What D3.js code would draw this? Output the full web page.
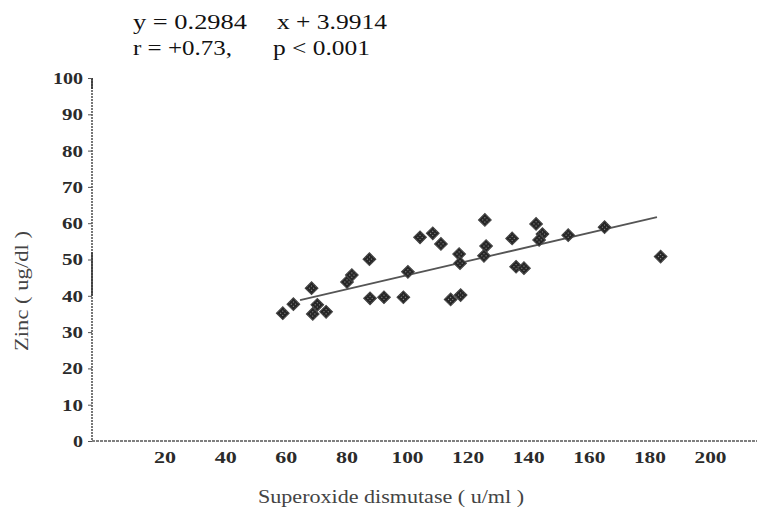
<!DOCTYPE html>
<html>
<head>
<meta charset="utf-8">
<script src="https://cdn.jsdelivr.net/npm/d3@7"></script>
<style>
  body { margin: 0; background: #fff; }
  svg { display: block; }
</style>
</head>
<body>
<div id="chart"></div>
<script>
'use strict';

//#region data
let sod  = [59.0, 62.5, 68.5, 70.4, 68.9, 73.3, 80.2, 81.8, 87.6, 87.8, 92.4, 98.8, 100.3, 104.3, 108.5, 111.2,
            114.4, 117.7, 117.2, 117.5, 125.7, 126.1, 125.4, 134.7, 136.0, 138.6, 142.6, 144.7, 143.6, 153.2, 165.2, 183.7];
let zinc = [35.2, 37.7, 42.1, 37.5, 35.0, 35.6, 43.8, 45.7, 50.1, 39.3, 39.6, 39.6, 46.6, 56.1, 57.2, 54.3,
            39.0, 40.2, 51.5, 49.0, 60.9, 53.7, 51.0, 55.8, 48.0, 47.6, 59.8, 57.0, 55.4, 56.7, 58.9, 50.8];

//fitted line as drawn (end points)
let fitX = [64.7, 182.5];
let fitY = [38.8, 61.7];

let xTicks = [20, 40, 60, 80, 100, 120, 140, 160, 180, 200];
let yTicks = [0, 10, 20, 30, 40, 50, 60, 70, 80, 90, 100];

let eqLine1 = ['y = 0.2984', 'x + 3.9914'];
let eqLine2 = ['r = +0.73,', 'p < 0.001'];
let xTitle = 'Superoxide dismutase ( u/ml )';
let yTitle = 'Zinc ( ug/dl )';
//#endregion

let w = 757;
let h = 516;

let svg = d3.select('#chart').append('svg').attr('width', w).attr('height', h);

//speckled fill for the markers (scan look)
let pat = svg.append('defs').append('pattern').attr('id', 'speck')
  .attr('patternUnits', 'userSpaceOnUse').attr('width', 3).attr('height', 3);
pat.append('rect').attr('width', 3).attr('height', 3).attr('fill', '#262626');
pat.append('rect').attr('x', 1).attr('y', 1).attr('width', 1).attr('height', 1).attr('fill', '#9a9a9a');

//scales - x 0 sits a little right of the y axis line in the original
let x = d3.scaleLinear().domain([0, 200]).range([104, 710]);
let y = d3.scaleLinear().domain([0, 100]).range([441, 78]);

let ink = '#2b2b2b';
let labelFont = '"Liberation Serif", "DejaVu Serif", serif';

//y axis line (scan looks dotted/grey)
svg.append('line').attr('x1', 92).attr('x2', 92).attr('y1', y(100)).attr('y2', y(0))
  .attr('stroke', '#555').attr('stroke-width', 1.6).attr('stroke-dasharray', '2,1');
//darker bits of the axis line
svg.append('line').attr('x1', 92).attr('x2', 92).attr('y1', y(100)).attr('y2', y(97))
  .attr('stroke', '#333').attr('stroke-width', 1.6);
svg.append('line').attr('x1', 92).attr('x2', 92).attr('y1', y(52)).attr('y2', y(40))
  .attr('stroke', '#333').attr('stroke-width', 1.6);

//x axis line
svg.append('line').attr('x1', 92).attr('x2', w).attr('y1', y(0)).attr('y2', y(0))
  .attr('stroke', '#555').attr('stroke-width', 1.6).attr('stroke-dasharray', '3,1');

//y ticks + labels
let yAxis = d3.axisLeft(y).tickValues(yTicks).tickSize(4).tickPadding(5);
let gy = svg.append('g').attr('transform', 'translate(92,0)').call(yAxis);
gy.select('.domain').remove();
gy.selectAll('line').attr('stroke', '#555');
gy.selectAll('text').attr('fill', ink).style('font-family', labelFont)
  .style('font-size', '17px').style('font-weight', 'bold')
  .attr('textLength', d => d === 100 ? 30 : (d === 0 ? 10 : 21)).attr('lengthAdjust', 'spacingAndGlyphs');

//x tick labels (no tick marks visible)
let xAxis = d3.axisBottom(x).tickValues(xTicks).tickSize(0).tickPadding(10);
let gx = svg.append('g').attr('transform', `translate(0,${y(0)})`).call(xAxis);
gx.select('.domain').remove();
gx.selectAll('text').attr('fill', ink).style('font-family', labelFont)
  .style('font-size', '17px').style('font-weight', 'bold')
  .attr('textLength', d => d >= 100 ? 32 : 22).attr('lengthAdjust', 'spacingAndGlyphs');

//axis titles
svg.append('text').text(xTitle).attr('x', 391).attr('y', 503).attr('text-anchor', 'middle')
  .attr('textLength', 266).attr('lengthAdjust', 'spacingAndGlyphs')
  .attr('fill', '#444').style('font-family', labelFont).style('font-size', '19px');

svg.append('text').text(yTitle).attr('transform', 'translate(28,291) rotate(-90)').attr('text-anchor', 'middle')
  .attr('textLength', 120).attr('lengthAdjust', 'spacingAndGlyphs')
  .attr('fill', '#444').style('font-family', labelFont).style('font-size', '19px');

//equation text
let eq = svg.append('g').style('font-family', labelFont).style('font-size', '22px').attr('fill', '#111');
eq.append('text').text(eqLine1[0]).attr('x', 133).attr('y', 29).attr('textLength', 114).attr('lengthAdjust', 'spacingAndGlyphs');
eq.append('text').text(eqLine1[1]).attr('x', 277).attr('y', 29).attr('textLength', 110).attr('lengthAdjust', 'spacingAndGlyphs');
eq.append('text').text(eqLine2[0]).attr('x', 133).attr('y', 55).attr('textLength', 99).attr('lengthAdjust', 'spacingAndGlyphs');
eq.append('text').text(eqLine2[1]).attr('x', 273).attr('y', 55).attr('textLength', 97).attr('lengthAdjust', 'spacingAndGlyphs');

//regression line
svg.append('line')
  .attr('x1', x(fitX[0])).attr('y1', y(fitY[0]))
  .attr('x2', x(fitX[1])).attr('y2', y(fitY[1]))
  .attr('stroke', '#555').attr('stroke-width', 1.8);

//points - diamonds
let pts = d3.zip(sod, zinc);
let diamond = d3.symbol().type(d3.symbolSquare).size(82);
svg.append('g').selectAll('path').data(pts).enter().append('path')
  .attr('d', diamond)
  .attr('transform', d => `translate(${x(d[0])},${y(d[1])}) rotate(45)`)
  .attr('fill', 'url(#speck)').attr('stroke', '#444').attr('stroke-width', 1);
</script>
</body>
</html>
